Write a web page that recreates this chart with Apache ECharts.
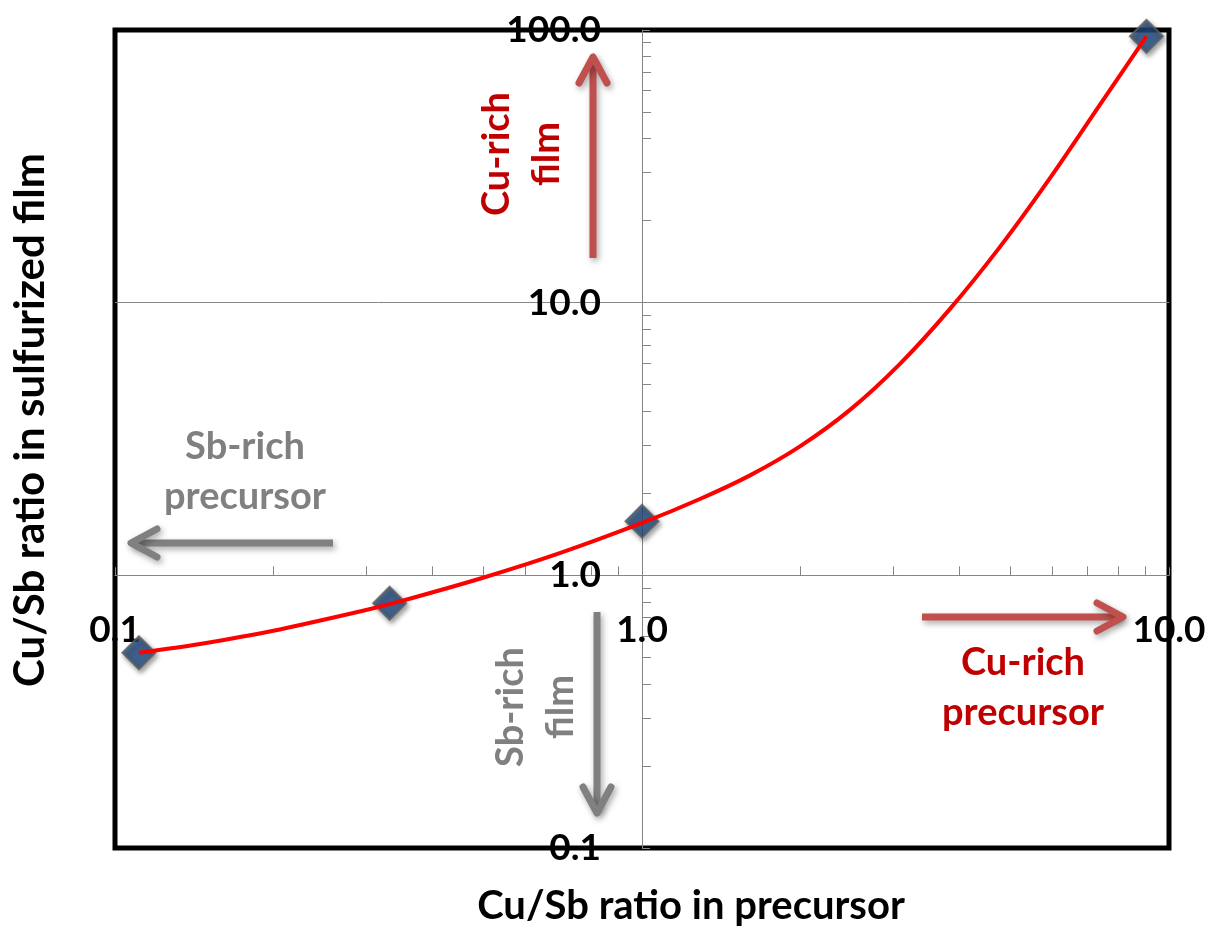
<!DOCTYPE html>
<html><head><meta charset="utf-8">
<script src="https://cdn.jsdelivr.net/npm/echarts@6/dist/echarts.min.js"></script>
<style>html,body{margin:0;padding:0;background:#fff}#c{width:1210px;height:926px}</style>
</head><body><div id="c"></div>
<script>
// ---- data ----
const markerX = [0.111, 0.332, 1.0, 9.06];      // Cu/Sb ratio in precursor
const markerY = [0.52, 0.79, 1.58, 94.8];       // Cu/Sb ratio in sulfurized film
// red trend curve, read along its path
const curveX = [0.111, 0.1449, 0.1986, 0.2969, 0.3473, 0.4993, 0.6958, 1.0, 1.288, 1.603, 1.994, 2.481, 3.087, 3.841, 4.778, 5.945, 7.397, 9.06];
const curveY = [0.52, 0.5603, 0.6249, 0.743, 0.8025, 0.980, 1.203, 1.556, 1.905, 2.326, 2.971, 4.043, 5.963, 9.487, 16.02, 28.63, 53.25, 94.8];
const xRange = [0.1, 10];
const yRange = [0.1, 100];
const xTitle = 'Cu/Sb ratio in precursor';
const yTitle = 'Cu/Sb ratio in sulfurized film';
const notes = { cuFilm: 'Cu-rich\nfilm', sbFilm: 'Sb-rich\nfilm', sbPrec: 'Sb-rich\nprecursor', cuPrec: 'Cu-rich\nprecursor' };

// ---- layout ----
const W = 1210, H = 926;
const G = { left: 115, right: 41, top: 30, bottom: 78 };
const gw = W - G.left - G.right, gh = H - G.top - G.bottom;
const L = Math.log10;
// axes cross at value 1 on both axes
const xAxisOffset = -gh * (L(1) - L(yRange[0])) / (L(yRange[1]) - L(yRange[0]));
const yAxisOffset = -gw * (L(1) - L(xRange[0])) / (L(xRange[1]) - L(xRange[0]));

const FONT = 'Lato';
const fmt = v => Number(v).toFixed(1);
const AX = '#868686';

function arrow(x1, y1, x2, y2, color) {
  const dx = x2 - x1, dy = y2 - y1, len = Math.hypot(dx, dy);
  const ux = dx / len, uy = dy / len, px = -uy, py = ux;
  const a = 26, w = 14;
  const sh = { shadowBlur: 6, shadowColor: 'rgba(0,0,0,0.35)', shadowOffsetX: 2, shadowOffsetY: 3 };
  return [
    { type: 'line', z: 50, shape: { x1, y1, x2: x2 - ux * 3, y2: y2 - uy * 3 },
      style: Object.assign({ stroke: color, lineWidth: 7, lineCap: 'butt' }, sh) },
    { type: 'polyline', z: 50, shape: { points: [[x2 - ux * a + px * w, y2 - uy * a + py * w], [x2, y2], [x2 - ux * a - px * w, y2 - uy * a - py * w]] },
      style: Object.assign({ stroke: color, lineWidth: 7, lineCap: 'round', lineJoin: 'round', fill: null }, sh) }
  ];
}
function label(text, x, y, color, rot, size) {
  return { type: 'text', z: 50, x, y, rotation: rot || 0,
    style: { text, fill: color, font: 'bold ' + (size || 38) + 'px ' + FONT, align: 'center', verticalAlign: 'middle', lineHeight: 50 } };
}

const RED_T = '#C00000', RED_A = '#C0504D', GRAY = '#808080';

const chart = echarts.init(document.getElementById('c'), null, { renderer: 'canvas' });
const option = {
  animation: false,
  backgroundColor: '#fff',
  grid: { left: G.left, right: G.right, top: G.top, bottom: G.bottom, show: true, borderColor: '#000', borderWidth: 5, backgroundColor: 'transparent' },
  xAxis: {
    type: 'log', logBase: 10, min: xRange[0], max: xRange[1], position: 'bottom', offset: xAxisOffset,
    axisLine: { show: true, onZero: false, lineStyle: { color: AX, width: 1 } },
    axisTick: { show: true, inside: true, length: 8, lineStyle: { color: AX } },
    minorTick: { show: true, splitNumber: 9, length: 9, lineStyle: { color: AX } },
    axisLabel: { margin: 36, formatter: fmt, color: '#000', fontFamily: FONT, fontWeight: 'bold', fontSize: 37, showMinLabel: true, showMaxLabel: true },
    splitLine: { show: false }
  },
  yAxis: {
    type: 'log', logBase: 10, min: yRange[0], max: yRange[1], position: 'left', offset: yAxisOffset,
    axisLine: { show: true, onZero: false, lineStyle: { color: AX, width: 1 } },
    axisTick: { show: true, inside: true, length: 8, lineStyle: { color: AX } },
    minorTick: { show: true, splitNumber: 9, length: 9, lineStyle: { color: AX } },
    axisLabel: { margin: 41, formatter: fmt, color: '#000', fontFamily: FONT, fontWeight: 'bold', fontSize: 37, showMinLabel: true, showMaxLabel: true },
    splitLine: { show: true, showMinLine: false, showMaxLine: false, lineStyle: { color: AX, width: 1 } }
  },
  series: [
    { type: 'scatter', z: 3, symbol: 'diamond', symbolSize: 33,
      data: markerX.map((x, i) => [x, markerY[i]]),
      itemStyle: { color: '#244E82', borderColor: '#5F5F5F', borderWidth: 2, shadowBlur: 5, shadowColor: 'rgba(0,0,0,0.45)', shadowOffsetX: 2, shadowOffsetY: 3 } },
    { type: 'line', z: 4, smooth: 0.3, showSymbol: false, symbol: 'none',
      data: curveX.map((x, i) => [x, curveY[i]]),
      lineStyle: { color: '#FF0000', width: 4 } }
  ],
  graphic: [].concat(
    arrow(593, 258, 593, 57, RED_A),
    arrow(597, 612, 597, 813, GRAY),
    arrow(333, 543, 131, 543, GRAY),
    arrow(922, 617, 1123, 617, RED_A),
    [
      label(notes.cuFilm, 522, 154, RED_T, Math.PI / 2),
      label(notes.sbFilm, 536, 707, GRAY, Math.PI / 2),
      label(notes.sbPrec, 245, 472, GRAY, 0),
      label(notes.cuPrec, 1023, 688, RED_T, 0),
      { type: 'text', z: 50, x: 691, y: 906, style: { text: xTitle, fill: '#000', font: 'bold 40px ' + FONT, align: 'center', verticalAlign: 'middle' } },
      { type: 'text', z: 50, x: 30, y: 420, rotation: Math.PI / 2, style: { text: yTitle, fill: '#000', font: 'bold 42px ' + FONT, align: 'center', verticalAlign: 'middle' } }
    ]
  )
};
chart.setOption(option);
</script></body></html>
